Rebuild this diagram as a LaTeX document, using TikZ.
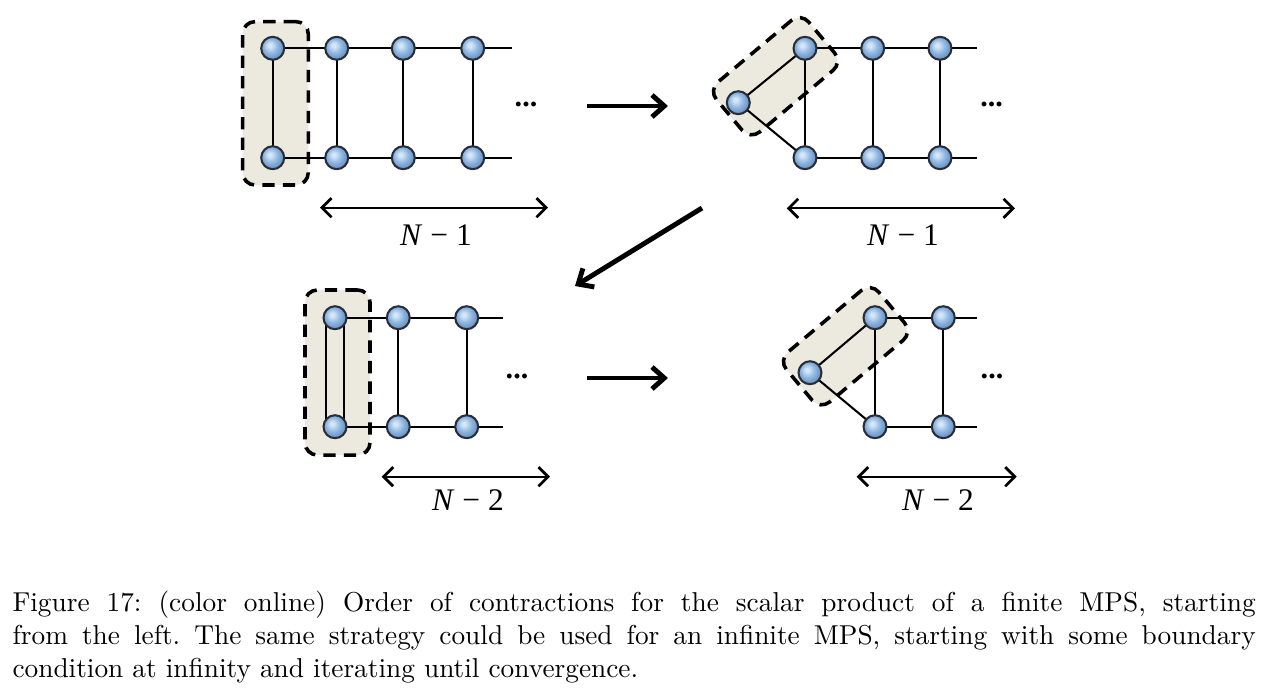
\documentclass[tikz,border=0pt]{standalone}
\usepackage{fontspec}
\newfontfamily\labfont{Liberation Serif}
\usetikzlibrary{arrows.meta}
\pgfdeclarelayer{bg}
\pgfdeclarelayer{mid}
\pgfsetlayers{bg,mid,main}
\definecolor{boxfill}{RGB}{236,233,222}
\definecolor{ballhi}{RGB}{212,230,248}
\definecolor{ballmid}{RGB}{140,180,224}
\definecolor{balledge}{RGB}{88,128,180}
\definecolor{ballline}{RGB}{40,45,55}
\pgfdeclareradialshading{mpsball}{\pgfpoint{-7bp}{7bp}}{color(0bp)=(ballhi); color(4bp)=(ballhi); color(16bp)=(ballmid); color(32bp)=(balledge); color(50bp)=(balledge)}
\tikzset{
  tensor/.style={circle, shade, shading=mpsball, draw=ballline, line width=0.75pt, minimum size=8.4pt, inner sep=0pt},
  bond/.style={line width=0.75pt, black},
  contract/.style={draw=black, fill=boxfill, dashed, dash pattern=on 4.5pt off 3pt, line width=1.3pt, rounded corners=4.5pt, inner sep=0pt},
  dimarrow/.style={line width=0.8pt, {Straight Barb[length=3.5pt,width=7pt,line width=1pt]}-{Straight Barb[length=3.5pt,width=7pt,line width=1pt]}},
  bigarrow/.style={line width=1.8pt, -{Straight Barb[length=4.5pt,width=8pt]}},
  lab/.style={font=\labfont\fontsize{11.5}{13}\selectfont, inner sep=0pt},
  dotsnode/.style={font=\labfont\bfseries\fontsize{11}{13}\selectfont, inner sep=0pt}
}
\begin{document}
\begin{tikzpicture}[x=0.366pt,y=-0.366pt]
\useasboundingbox (0,0) rectangle (1288,697);

% ---------- Panel A (top left) ----------
\foreach \n/\x in {1/272.7,2/336.7,3/403.3,4/472.7}{
  \node[tensor] (at\n) at (\x,48.3) {};
  \node[tensor] (ab\n) at (\x,157.7) {};
}
\coordinate (aet) at (511.7,48.3);
\coordinate (aeb) at (511.7,157.7);
\begin{pgfonlayer}{bg}
  \node[contract, minimum width=24pt, minimum height=59.8pt] (boxA) at (275.5,103.3) {};
\end{pgfonlayer}
\begin{pgfonlayer}{mid}
  \draw[bond] (at1.center) -- (aet);
  \draw[bond] (ab1.center) -- (aeb);
  \foreach \n in {1,2,3,4}{ \draw[bond] (at\n.center) -- (ab\n.center); }
\end{pgfonlayer}
\node[dotsnode] (dotsA) at (526,104) {...};
\coordinate (dA1) at (320,207.7);
\coordinate (dA2) at (548,207.7);
\draw[dimarrow] (dA1) -- (dA2);
\node[lab] (lA) at (436,235) {\textit{N} − 1};

% ---------- Panel B (top right) ----------
\foreach \n/\x in {1/805,2/872.7,3/940}{
  \node[tensor] (bt\n) at (\x,48.3) {};
  \node[tensor] (bb\n) at (\x,157.7) {};
}
\node[tensor] (bl) at (738.3,102.7) {};
\coordinate (bet) at (977.3,48.3);
\coordinate (beb) at (977.3,157.7);
\begin{pgfonlayer}{bg}
  \node[contract, minimum width=44.1pt, minimum height=23.8pt, rotate=40] (boxB) at (775.5,76.2) {};
\end{pgfonlayer}
\begin{pgfonlayer}{mid}
  \draw[bond] (bt1.center) -- (bet);
  \draw[bond] (bb1.center) -- (beb);
  \foreach \n in {1,2,3}{ \draw[bond] (bt\n.center) -- (bb\n.center); }
  \draw[bond] (bl.center) -- (bt1.center);
  \draw[bond] (bl.center) -- (bb1.center);
\end{pgfonlayer}
\node[dotsnode] (dotsB) at (991.5,104) {...};
\coordinate (dB1) at (786.7,208.3);
\coordinate (dB2) at (1015,208.3);
\draw[dimarrow] (dB1) -- (dB2);
\node[lab] (lB) at (903,235) {\textit{N} − 1};

% ---------- Panel C (bottom left) ----------
\foreach \n/\x in {1/335,2/398.3,3/466.7}{
  \node[tensor] (ct\n) at (\x,317.7) {};
  \node[tensor] (cb\n) at (\x,426.7) {};
}
\coordinate (cet) at (503.3,317.7);
\coordinate (ceb) at (503.3,426.7);
\begin{pgfonlayer}{bg}
  \node[contract, minimum width=23.8pt, minimum height=60.4pt] (boxC) at (337.5,372.5) {};
\end{pgfonlayer}
\begin{pgfonlayer}{mid}
  \draw[bond] (ct1.center) -- (cet);
  \draw[bond] (cb1.center) -- (ceb);
  \draw[bond] ([xshift=-3.3pt]ct1.center) -- ([xshift=-3.3pt]cb1.center);
  \draw[bond] ([xshift=3.3pt]ct1.center) -- ([xshift=3.3pt]cb1.center);
  \foreach \n in {2,3}{ \draw[bond] (ct\n.center) -- (cb\n.center); }
\end{pgfonlayer}
\node[dotsnode] (dotsC) at (517,376) {...};
\coordinate (dC1) at (381.7,476.7);
\coordinate (dC2) at (550,476.7);
\draw[dimarrow] (dC1) -- (dC2);
\node[lab] (lC) at (468,500) {\textit{N} − 2};

% ---------- Panel D (bottom right) ----------
\foreach \n/\x in {1/875,2/943.3}{
  \node[tensor] (dt\n) at (\x,317.7) {};
  \node[tensor] (db\n) at (\x,426.7) {};
}
\node[tensor] (dl) at (810,372.7) {};
\coordinate (det) at (976.7,317.7);
\coordinate (deb) at (976.7,426.7);
\begin{pgfonlayer}{bg}
  \node[contract, minimum width=44.1pt, minimum height=23.8pt, rotate=40] (boxD) at (845.5,346.2) {};
\end{pgfonlayer}
\begin{pgfonlayer}{mid}
  \draw[bond] (dt1.center) -- (det);
  \draw[bond] (db1.center) -- (deb);
  \foreach \n in {1,2}{ \draw[bond] (dt\n.center) -- (db\n.center); }
  \draw[bond] (dl.center) -- (dt1.center);
  \draw[bond] (dl.center) -- (db1.center);
\end{pgfonlayer}
\node[dotsnode] (dotsD) at (992,376) {...};
\coordinate (dD1) at (856.7,476.7);
\coordinate (dD2) at (1016.7,476.7);
\draw[dimarrow] (dD1) -- (dD2);
\node[lab] (lD) at (938,500) {\textit{N} − 2};

% ---------- Step arrows ----------
\coordinate (s1a) at (587,106);
\coordinate (s1b) at (668,106);
\coordinate (s2a) at (702,208);
\coordinate (s2b) at (575,286);
\coordinate (s3a) at (587,378);
\coordinate (s3b) at (668,378);
\draw[bigarrow] (s1a) -- (s1b);
\draw[bigarrow] (s2a) -- (s2b);
\draw[bigarrow] (s3a) -- (s3b);

% ---------- Caption ----------
\node[anchor=north west, inner sep=0pt, text width=455pt, align=justify, font=\fontsize{10}{12.08}\selectfont\frenchspacing] (cap) at (12,590)
{Figure 17: (color online) Order of contractions for the scalar product of a finite MPS, starting\linebreak
from the left. The same strategy could be used for an infinite MPS, starting with some boundary\linebreak
condition at infinity and iterating until convergence.};
\end{tikzpicture}
\end{document}
